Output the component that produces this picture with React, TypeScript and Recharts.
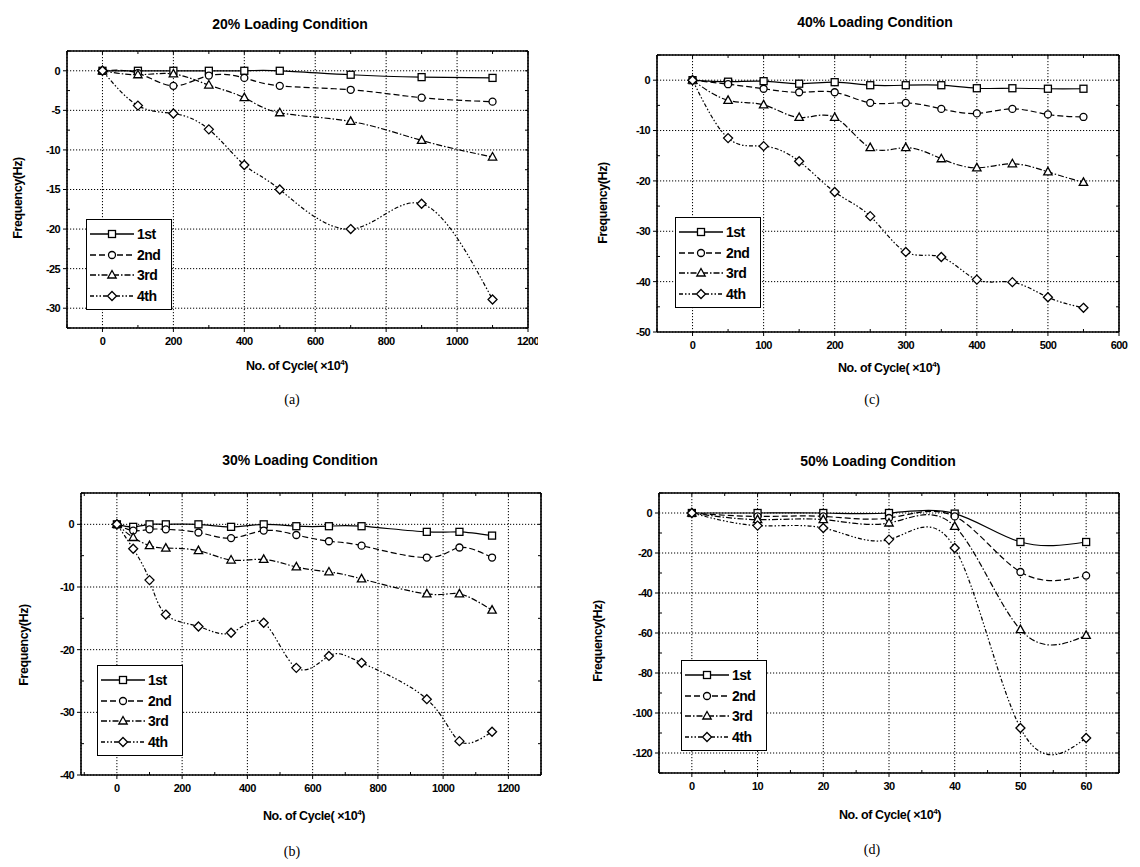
import React from 'react';
import { LineChart, Line, XAxis, YAxis, CartesianGrid, Legend } from 'recharts';

const SERIES_NAMES = ['1st', '2nd', '3rd', '4th'];

// (a) 20% loading
const cyclesA = [0, 100, 200, 300, 400, 500, 700, 900, 1100];
const a1st = [0, 0, 0, 0, 0, 0, -0.5, -0.8, -0.9];
const a2nd = [0, -0.3, -1.9, -0.6, -0.9, -1.9, -2.4, -3.4, -3.9];
const a3rd = [0, -0.5, -0.4, -1.8, -3.4, -5.3, -6.4, -8.8, -10.9];
const a4th = [0, -4.4, -5.4, -7.4, -11.9, -15, -20, -16.8, -28.9];

// (b) 30% loading
const cyclesB = [0, 50, 100, 150, 250, 350, 450, 550, 650, 750, 950, 1050, 1150];
const b1st = [0, -0.4, 0, 0, 0, -0.4, 0, -0.3, -0.3, -0.3, -1.2, -1.2, -1.8];
const b2nd = [0, -1.0, -0.8, -0.8, -1.3, -2.2, -1.0, -1.7, -2.7, -3.4, -5.3, -3.7, -5.3];
const b3rd = [0, -2.1, -3.4, -3.8, -4.2, -5.7, -5.6, -6.8, -7.6, -8.7, -11.1, -11.1, -13.7];
const b4th = [0, -3.9, -8.9, -14.4, -16.3, -17.3, -15.7, -22.9, -21, -22.1, -27.9, -34.6, -33.1];

// (c) 40% loading
const cyclesC = [0, 50, 100, 150, 200, 250, 300, 350, 400, 450, 500, 550];
const c1st = [0, -0.3, -0.2, -0.7, -0.4, -1.0, -1.0, -1.0, -1.6, -1.6, -1.7, -1.7];
const c2nd = [0, -0.8, -1.7, -2.4, -2.4, -4.5, -4.5, -5.7, -6.6, -5.7, -6.8, -7.3];
const c3rd = [0, -4, -4.9, -7.4, -7.4, -13.4, -13.4, -15.6, -17.4, -16.6, -18.2, -20.3];
const c4th = [0, -11.5, -13.1, -16.1, -22.2, -27, -34.1, -35.1, -39.6, -40.1, -43.1, -45.2];

// (d) 50% loading
const cyclesD = [0, 10, 20, 30, 40, 50, 60];
const d1st = [0, 0, 0, 0, -0.3, -14.5, -14.5];
const d2nd = [0, -1.7, -1.7, -2.5, -1.7, -29.5, -31.3];
const d3rd = [0, -3.3, -3.3, -5, -6.7, -58.3, -61.2];
const d4th = [0, -6.3, -7.5, -13.3, -17.5, -107.5, -112.5];

// tick values
const xTicksA = [0, 200, 400, 600, 800, 1000, 1200];
const xMinorA = [-100, 100, 300, 500, 700, 900, 1100];
const yTicksA = [-30, -25, -20, -15, -10, -5, 0];
const yMinorA = [-32.5, -27.5, -22.5, -17.5, -12.5, -7.5, -2.5, 2.5];
const xTicksB = [0, 200, 400, 600, 800, 1000, 1200];
const xMinorB = [-100, 100, 300, 500, 700, 900, 1100, 1300];
const yTicksB = [-40, -30, -20, -10, 0];
const yMinorB = [-35, -25, -15, -5, 5];
const xTicksC = [0, 100, 200, 300, 400, 500, 600];
const xMinorC = [-50, 50, 150, 250, 350, 450, 550];
const yTicksC = [-50, -40, -30, -20, -10, 0];
const yMinorC = [-45, -35, -25, -15, -5, 5];
const xTicksD = [0, 10, 20, 30, 40, 50, 60];
const xMinorD = [-5, 5, 15, 25, 35, 45, 55, 65];
const yTicksD = [-120, -100, -80, -60, -40, -20, 0];
const yMinorD = [-130, -110, -90, -70, -50, -30, -10, 10];

const DASHES = ['0', '6 3', '6 2 1.5 2', '4 2 1.5 2 1.5 2'];
const SHAPES = ['square', 'circle', 'triangle', 'diamond'];

const FONT = '"Liberation Sans", Arial, sans-serif';

function Marker({ cx, cy, shape }: { cx: number; cy: number; shape: string }) {
  const common = { fill: '#fff', stroke: '#000', strokeWidth: 1.3 };
  if (shape === 'square') return <rect x={cx - 3.5} y={cy - 3.5} width={7} height={7} {...common} />;
  if (shape === 'circle') return <circle cx={cx} cy={cy} r={3.5} {...common} />;
  if (shape === 'triangle')
    return <polygon points={`${cx},${cy - 4.5} ${cx - 4.2},${cy + 3} ${cx + 4.2},${cy + 3}`} {...common} />;
  return <polygon points={`${cx},${cy - 4.5} ${cx + 4.5},${cy} ${cx},${cy + 4.5} ${cx - 4.5},${cy}`} {...common} />;
}

const renderLegend = () => (
  <div
    style={{
      border: '1.5px solid #000',
      background: '#fff',
      width: 86,
      height: 91,
      boxSizing: 'border-box',
      padding: '4px 3px',
      fontFamily: FONT,
    }}
  >
    {SERIES_NAMES.map((n, i) => (
      <div key={n} style={{ display: 'flex', alignItems: 'center', height: 20.5 }}>
        <svg width={44} height={12}>
          <line x1={0} y1={6} x2={44} y2={6} stroke="#000" strokeWidth={1.3} strokeDasharray={DASHES[i]} />
          <Marker cx={22} cy={6} shape={SHAPES[i]} />
        </svg>
        <span style={{ fontWeight: 700, fontSize: 14, marginLeft: 3, letterSpacing: -0.5 }}>{n}</span>
      </div>
    ))}
  </div>
);

interface PanelDef {
  title: string;
  caption: string;
  cycles: number[];
  series: number[][];
  xDomain: [number, number];
  xTicks: number[];
  xMinor: number[];
  yDomain: [number, number];
  yTicks: number[];
  yMinor: number[];
  plot: { l: number; t: number; r: number; b: number };
  legend: { l: number; t: number };
  titleAt: [number, number];
  captionAt: [number, number];
  xLabelAt: [number, number];
  yLabelAt: [number, number];
}

const PANELS: PanelDef[] = [
  {
    title: '20% Loading Condition',
    caption: '(a)',
    cycles: cyclesA,
    series: [a1st, a2nd, a3rd, a4th],
    xDomain: [-100, 1200],
    xTicks: xTicksA,
    xMinor: xMinorA,
    yDomain: [-32.5, 2.5],
    yTicks: yTicksA,
    yMinor: yMinorA,
    plot: { l: 67, t: 51, r: 528, b: 328 },
    legend: { l: 86, t: 219 },
    titleAt: [290, 24],
    captionAt: [292, 400],
    xLabelAt: [297, 366],
    yLabelAt: [18, 198],
  },
  {
    title: '40% Loading Condition',
    caption: '(c)',
    cycles: cyclesC,
    series: [c1st, c2nd, c3rd, c4th],
    xDomain: [-50, 600],
    xTicks: xTicksC,
    xMinor: xMinorC,
    yDomain: [-50, 5],
    yTicks: yTicksC,
    yMinor: yMinorC,
    plot: { l: 657, t: 55, r: 1119, b: 332 },
    legend: { l: 675, t: 217 },
    titleAt: [875, 22],
    captionAt: [872, 400],
    xLabelAt: [889, 368],
    yLabelAt: [603, 203],
  },
  {
    title: '30% Loading Condition',
    caption: '(b)',
    cycles: cyclesB,
    series: [b1st, b2nd, b3rd, b4th],
    xDomain: [-110, 1300],
    xTicks: xTicksB,
    xMinor: xMinorB,
    yDomain: [-40, 5],
    yTicks: yTicksB,
    yMinor: yMinorB,
    plot: { l: 81, t: 493, r: 541, b: 775 },
    legend: { l: 97, t: 665 },
    titleAt: [300, 460],
    captionAt: [292, 852],
    xLabelAt: [314, 816],
    yLabelAt: [24, 645],
  },
  {
    title: '50% Loading Condition',
    caption: '(d)',
    cycles: cyclesD,
    series: [d1st, d2nd, d3rd, d4th],
    xDomain: [-5, 65],
    xTicks: xTicksD,
    xMinor: xMinorD,
    yDomain: [-130, 10],
    yTicks: yTicksD,
    yMinor: yMinorD,
    plot: { l: 659, t: 493, r: 1119, b: 773 },
    legend: { l: 681, t: 660 },
    titleAt: [878, 461],
    captionAt: [872, 850],
    xLabelAt: [890, 815],
    yLabelAt: [598, 641],
  },
];

const blank = () => '';

function Panel({ p }: { p: PanelDef }) {
  const YW = 60;
  const XH = 30;
  const left = p.plot.l - YW;
  const top = p.plot.t - 10;
  const width = p.plot.r - p.plot.l + YW + 10;
  const height = p.plot.b - p.plot.t + XH + 10;
  const rows = p.cycles.map((c, i) => ({
    cycle: c,
    s0: p.series[0][i],
    s1: p.series[1][i],
    s2: p.series[2][i],
    s3: p.series[3][i],
  }));
  const tickStyle = { fill: '#000', fontSize: 11, fontWeight: 700, letterSpacing: -0.6 };
  const axisLine = { stroke: '#000', strokeWidth: 1.6 };
  const tickLine = { stroke: '#000', strokeWidth: 1 };

  return (
    <>
      <div style={{ position: 'absolute', left, top, fontFamily: FONT }}>
        <LineChart width={width} height={height} data={rows} margin={{ top: 10, right: 10, left: 0, bottom: 0 }}>
          <CartesianGrid stroke="#000" strokeDasharray="1.2 1.8" strokeWidth={1} />
          <XAxis
            dataKey="cycle"
            type="number"
            domain={p.xDomain}
            ticks={p.xTicks}
            interval={0}
            height={XH}
            axisLine={axisLine}
            tickLine={tickLine}
            tickSize={4}
            tickMargin={5}
            tick={tickStyle}
            allowDataOverflow
          />
          <XAxis
            xAxisId="xminor"
            dataKey="cycle"
            type="number"
            domain={p.xDomain}
            ticks={p.xMinor}
            interval={0}
            height={1}
            mirror
            axisLine={false}
            tickLine={tickLine}
            tickSize={3}
            tickFormatter={blank}
            allowDataOverflow
          />
          <XAxis
            xAxisId="xtop"
            orientation="top"
            dataKey="cycle"
            type="number"
            domain={p.xDomain}
            ticks={[...p.xTicks, ...p.xMinor]}
            interval={0}
            height={1}
            mirror
            axisLine={axisLine}
            tickLine={tickLine}
            tickSize={3}
            tickFormatter={blank}
            allowDataOverflow
          />
          <YAxis
            type="number"
            domain={p.yDomain}
            ticks={p.yTicks}
            interval={0}
            width={YW}
            axisLine={axisLine}
            tickLine={tickLine}
            tickSize={4}
            tickMargin={3}
            tick={tickStyle}
            allowDataOverflow
          />
          <YAxis
            yAxisId="yminor"
            type="number"
            domain={p.yDomain}
            ticks={p.yMinor}
            interval={0}
            width={1}
            mirror
            axisLine={false}
            tickLine={tickLine}
            tickSize={3}
            tickFormatter={blank}
            allowDataOverflow
          />
          <YAxis
            yAxisId="yright"
            orientation="right"
            type="number"
            domain={p.yDomain}
            ticks={[...p.yTicks, ...p.yMinor]}
            interval={0}
            width={1}
            mirror
            axisLine={axisLine}
            tickLine={tickLine}
            tickSize={3}
            tickFormatter={blank}
            allowDataOverflow
          />
          <Legend
            content={renderLegend}
            layout="vertical"
            align="center"
            verticalAlign="middle"
            wrapperStyle={{ left: p.legend.l - left, top: p.legend.t - top, width: 86, height: 91 }}
          />
          {SERIES_NAMES.map((name, i) => (
            <Line
              key={name}
              name={name}
              dataKey={`s${i}`}
              type="natural"
              stroke="#000"
              strokeWidth={1.2}
              strokeDasharray={DASHES[i]}
              isAnimationActive={false}
              dot={(d: any) => <Marker key={`${name}-${d.index}`} cx={d.cx} cy={d.cy} shape={SHAPES[i]} />}
              activeDot={false}
            />
          ))}
        </LineChart>
      </div>
      <div style={{ ...centered(p.titleAt), fontSize: 14, fontWeight: 700 }}>{p.title}</div>
      <div style={{ ...centered(p.xLabelAt), fontSize: 12.5, fontWeight: 700, letterSpacing: -0.4 }}>
        No. of Cycle( ×10<span style={{ fontSize: 8, verticalAlign: 'super' }}>4</span>)
      </div>
      <div
        style={{
          ...centered(p.yLabelAt),
          transform: 'translate(-50%, -50%) rotate(-90deg)',
          fontSize: 12.5,
          fontWeight: 700,
          letterSpacing: -0.4,
        }}
      >
        Frequency(Hz)
      </div>
      <div
        style={{
          ...centered(p.captionAt),
          fontFamily: '"Liberation Serif", "Times New Roman", serif',
          fontSize: 14,
        }}
      >
        {p.caption}
      </div>
    </>
  );
}

function centered([x, y]: [number, number]): React.CSSProperties {
  return {
    position: 'absolute',
    left: x,
    top: y,
    transform: 'translate(-50%, -50%)',
    whiteSpace: 'nowrap',
    fontFamily: FONT,
    color: '#000',
    lineHeight: 1,
  };
}

export default function App() {
  return (
    <div style={{ position: 'absolute', left: 0, top: 0, width: 1140, height: 867, background: '#fff' }}>
      {PANELS.map((p) => (
        <Panel key={p.caption} p={p} />
      ))}
    </div>
  );
}
